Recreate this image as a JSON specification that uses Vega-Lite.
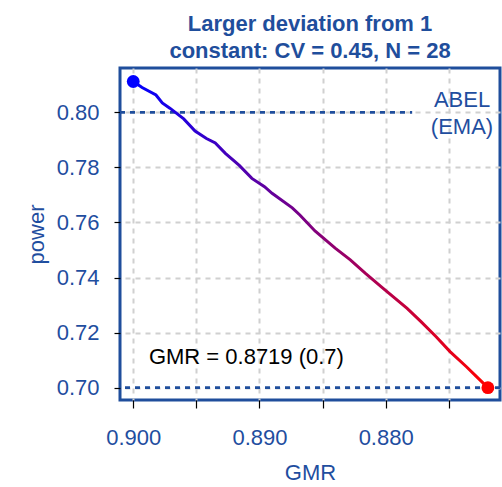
{
  "$schema": "https://vega.github.io/schema/vega-lite/v6.json",
  "autosize": "none",
  "width": 380,
  "height": 332,
  "padding": {"left": 120, "top": 68, "right": 2, "bottom": 87},
  "background": "white",
  "config": {
    "font": "Liberation Sans",
    "view": {"stroke": "#1f4e9c", "strokeWidth": 3},
    "axis": {
      "labelFont": "Liberation Sans",
      "titleFont": "Liberation Sans",
      "labelFontSize": 22,
      "titleFontSize": 22,
      "titleFontWeight": "normal",
      "labelColor": "#1f4e9f",
      "titleColor": "#1f4e9f",
      "domain": false,
      "tickColor": "#000000",
      "tickWidth": 1.2,
      "gridColor": "#d0d0d0",
      "gridWidth": 2,
      "gridDash": [5, 5]
    }
  },
  "title": {
    "text": ["Larger deviation from 1", "constant: CV = 0.45, N = 28"],
    "font": "Liberation Sans",
    "fontSize": 22,
    "fontWeight": "bold",
    "color": "#1f4e9c",
    "lineHeight": 27,
    "offset": 8,
    "dy": 3,
    "anchor": "middle"
  },
  "datasets": {
    "curve": [
      {"GMR": 0.9000, "power": 0.8112},
      {"GMR": 0.8993, "power": 0.8090},
      {"GMR": 0.8982, "power": 0.8063},
      {"GMR": 0.8977, "power": 0.8034},
      {"GMR": 0.8971, "power": 0.8015},
      {"GMR": 0.8960, "power": 0.7976},
      {"GMR": 0.8951, "power": 0.7932},
      {"GMR": 0.8942, "power": 0.7905},
      {"GMR": 0.8935, "power": 0.7889},
      {"GMR": 0.8927, "power": 0.7851},
      {"GMR": 0.8916, "power": 0.7807},
      {"GMR": 0.8906, "power": 0.7760},
      {"GMR": 0.8896, "power": 0.7730},
      {"GMR": 0.8890, "power": 0.7706},
      {"GMR": 0.8874, "power": 0.7653},
      {"GMR": 0.8868, "power": 0.7627},
      {"GMR": 0.8856, "power": 0.7569},
      {"GMR": 0.8840, "power": 0.7507},
      {"GMR": 0.8828, "power": 0.7464},
      {"GMR": 0.8816, "power": 0.7415},
      {"GMR": 0.8802, "power": 0.7361},
      {"GMR": 0.8783, "power": 0.7288},
      {"GMR": 0.8772, "power": 0.7240},
      {"GMR": 0.8760, "power": 0.7185},
      {"GMR": 0.8749, "power": 0.7131},
      {"GMR": 0.8736, "power": 0.7076},
      {"GMR": 0.8728, "power": 0.7040},
      {"GMR": 0.8719, "power": 0.7000}
    ],
    "ends": [
      {"GMR": 0.9000, "power": 0.8112, "end": "start"},
      {"GMR": 0.8719, "power": 0.7000, "end": "target"}
    ],
    "refs": [
      {"name": "ABEL", "power": 0.80, "from": 0.90105, "to": 0.8779}
    ],
    "base": [
      {"power": 0.70}
    ],
    "abel": [
      {"GMR": 0.87395, "power": 0.8045, "label": "ABEL"},
      {"GMR": 0.87395, "power": 0.7947, "label": "(EMA)"}
    ],
    "note": [
      {"GMR": 0.89876, "power": 0.7112, "label": "GMR = 0.8719 (0.7)"}
    ]
  },
  "layer": [
    {
      "data": {"name": "refs"},
      "mark": {"type": "rule", "color": "#1f4e9c", "strokeWidth": 2.8, "strokeDash": [5, 5]},
      "encoding": {
        "x": {
          "field": "from", "type": "quantitative",
          "scale": {"domain": [0.87094, 0.90105], "reverse": true, "zero": false, "nice": false},
          "axis": {
            "title": "GMR",
            "values": [0.900, 0.895, 0.890, 0.885, 0.880, 0.875],
            "labelExpr": "indexof(['0.900','0.890','0.880'], format(datum.value,'.3f')) >= 0 ? format(datum.value,'.3f') : ''",
            "tickSize": 8,
            "labelPadding": 19,
            "titlePadding": 14
          }
        },
        "x2": {"field": "to"},
        "y": {
          "field": "power", "type": "quantitative",
          "scale": {"domain": [0.69553, 0.81609], "zero": false, "nice": false},
          "axis": {
            "title": "power",
            "values": [0.70, 0.72, 0.74, 0.76, 0.78, 0.80],
            "format": ".2f",
            "tickSize": 6,
            "labelPadding": 15,
            "titlePadding": 8
          }
        }
      }
    },
    {
      "data": {"name": "base"},
      "mark": {"type": "rule", "color": "#1f4e9c", "strokeWidth": 2.8, "strokeDash": [5, 5]},
      "encoding": {
        "y": {"field": "power", "type": "quantitative"}
      }
    },
    {
      "data": {"name": "curve"},
      "mark": {
        "type": "line",
        "strokeWidth": 3,
        "color": {
          "gradient": "linear",
          "x1": 0, "y1": 0, "x2": 1, "y2": 0,
          "stops": [
            {"offset": 0, "color": "#0000ff"},
            {"offset": 1, "color": "#ff0000"}
          ]
        }
      },
      "encoding": {
        "x": {"field": "GMR", "type": "quantitative"},
        "y": {"field": "power", "type": "quantitative"}
      }
    },
    {
      "data": {"name": "ends"},
      "mark": {"type": "circle", "opacity": 1, "size": 165},
      "encoding": {
        "x": {"field": "GMR", "type": "quantitative"},
        "y": {"field": "power", "type": "quantitative"},
        "color": {
          "field": "end", "type": "nominal",
          "scale": {"domain": ["start", "target"], "range": ["#0000ff", "#ff0000"]},
          "legend": null
        }
      }
    },
    {
      "data": {"name": "abel"},
      "mark": {"type": "text", "fontSize": 22, "font": "Liberation Sans", "baseline": "middle", "align": "center", "color": "#1f4e9f"},
      "encoding": {
        "x": {"field": "GMR", "type": "quantitative"},
        "y": {"field": "power", "type": "quantitative"},
        "text": {"field": "label"}
      }
    },
    {
      "data": {"name": "note"},
      "mark": {"type": "text", "fontSize": 22, "font": "Liberation Sans", "baseline": "middle", "align": "left", "color": "#000000"},
      "encoding": {
        "x": {"field": "GMR", "type": "quantitative"},
        "y": {"field": "power", "type": "quantitative"},
        "text": {"field": "label"}
      }
    }
  ]
}
